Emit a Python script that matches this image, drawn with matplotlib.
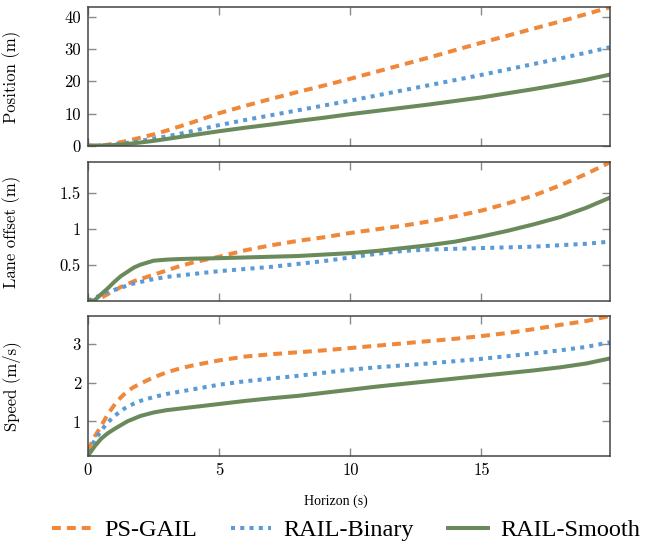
import matplotlib
matplotlib.use("Agg")
import matplotlib.pyplot as plt
from matplotlib.lines import Line2D

plt.rcParams['axes.formatter.use_mathtext'] = True

# ---------------- data ----------------
horizon = [0, 0.25, 0.5, 0.75, 1, 1.25, 1.5, 1.75, 2, 2.5, 3, 3.5, 4, 5, 6, 7, 8, 9, 10,
           11, 12, 13, 14, 15, 16, 17, 18, 19, 19.9]

series_names = ["PS-GAIL", "RAIL-Binary", "RAIL-Smooth"]

pos_ps = [0, 0.02, 0.1, 0.3, 0.7, 1.1, 1.5, 2.0, 2.5, 3.5, 4.7, 6.0, 7.3, 10.1, 12.4, 14.6, 16.7,
          18.7, 20.8, 23.0, 25.2, 27.4, 29.7, 32.0, 34.2, 36.4, 38.6, 40.9, 43.0]
pos_bin = [0, 0.01, 0.05, 0.15, 0.35, 0.6, 0.9, 1.2, 1.5, 2.2, 2.9, 3.7, 4.6, 6.4, 8.0, 9.5, 11.0,
           12.5, 14.0, 15.6, 17.2, 18.8, 20.4, 22.0, 23.7, 25.4, 27.1, 28.9, 30.6]
pos_smooth = [0, 0.0, 0.03, 0.1, 0.2, 0.35, 0.55, 0.75, 1.0, 1.5, 2.1, 2.7, 3.3, 4.5, 5.6, 6.6, 7.7,
              8.7, 9.8, 10.8, 11.8, 12.8, 13.9, 15.0, 16.3, 17.6, 19.0, 20.5, 22.1]

lane_ps = [0, 0.0, 0.04, 0.09, 0.14, 0.19, 0.23, 0.27, 0.3, 0.36, 0.42, 0.48, 0.53, 0.61, 0.7, 0.77,
           0.83, 0.88, 0.94, 0.99, 1.04, 1.1, 1.17, 1.25, 1.35, 1.46, 1.6, 1.76, 1.92]
lane_bin = [0, 0.04, 0.08, 0.12, 0.15, 0.18, 0.21, 0.24, 0.26, 0.3, 0.33, 0.35, 0.37, 0.41, 0.44,
            0.47, 0.51, 0.55, 0.6, 0.65, 0.69, 0.71, 0.72, 0.73, 0.74, 0.75, 0.77, 0.79, 0.82]
lane_smooth = [0, 0.005, 0.09, 0.17, 0.26, 0.34, 0.4, 0.46, 0.5, 0.555, 0.57, 0.578, 0.583, 0.59,
               0.6, 0.61, 0.62, 0.64, 0.66, 0.69, 0.73, 0.77, 0.82, 0.89, 0.97, 1.06, 1.16, 1.29, 1.43]

speed_ps = [0.25, 0.6, 0.88, 1.18, 1.42, 1.62, 1.78, 1.89, 1.98, 2.14, 2.27, 2.37, 2.45, 2.58,
            2.68, 2.74, 2.79, 2.84, 2.9, 2.96, 3.02, 3.08, 3.14, 3.21, 3.29, 3.39, 3.5, 3.6, 3.73]
speed_bin = [0.2, 0.5, 0.76, 0.97, 1.13, 1.27, 1.38, 1.46, 1.53, 1.63, 1.71, 1.77, 1.83, 1.95,
             2.04, 2.11, 2.18, 2.26, 2.34, 2.4, 2.45, 2.5, 2.56, 2.62, 2.69, 2.76, 2.84, 2.93, 3.05]
speed_smooth = [0.11, 0.35, 0.55, 0.69, 0.8, 0.9, 1.0, 1.07, 1.14, 1.23, 1.29, 1.33, 1.37, 1.45,
                1.53, 1.6, 1.66, 1.74, 1.82, 1.9, 1.97, 2.04, 2.11, 2.18, 2.25, 2.32, 2.4, 2.5, 2.63]

x_ticks = [0, 5, 10, 15]
pos_ticks = [0, 10, 20, 30, 40]
lane_ticks = [0.5, 1, 1.5]
speed_ticks = [1, 2, 3]

ylabels = ["Position (m)", "Lane offset (m)", "Speed (m/s)"]
xlabel = "Horizon (s)"

# ---------------- style ----------------
colors = ["#F0883A", "#5B9BD5", "#6A8A5B"]
lw = 2.9
styles = [dict(dashes=(2.2, 1.5), dash_capstyle='butt'),
          dict(dashes=(1.0, 1.3), dash_capstyle='butt'),
          dict(linestyle='-')]

fig = plt.figure(figsize=(6.62, 5.44), dpi=100)
W, H = 662, 544
left, right = 88 / W, 610 / W
panels = [(7.3, 145.7), (162.3, 300.7), (316, 455.7)]

data = [
    ([pos_ps, pos_bin, pos_smooth], pos_ticks, (0, 43.0), ["0", "10", "20", "30", "40"]),
    ([lane_ps, lane_bin, lane_smooth], lane_ticks, (0, 1.92), ["0.5", "1", "1.5"]),
    ([speed_ps, speed_bin, speed_smooth], speed_ticks, (0.11, 3.73), ["1", "2", "3"]),
]

tickfont = dict(family='cmr10', size=12)
axes = []
for i, ((top, bot), (ys, yt, ylim, ytl)) in enumerate(zip(panels, data)):
    ax = fig.add_axes([left, 1 - bot / H, right - left, (bot - top) / H])
    for y, c, st in zip(ys, colors, styles):
        ax.plot(horizon, y, color=c, lw=lw, **st)
    ax.set_xlim(0, 19.9)
    ax.set_ylim(*ylim)
    ax.set_xticks(x_ticks)
    ax.set_yticks(yt)
    ax.set_yticklabels(ytl, fontdict=tickfont)
    if i == 2:
        ax.set_xticklabels([str(t) for t in x_ticks], fontdict=tickfont)
    else:
        ax.set_xticklabels([])
    ax.tick_params(direction='in', top=True, right=True, length=6, width=1.0,
                   color='#8a8a8a', pad=5)
    for sp in ax.spines.values():
        sp.set_color('#444444')
        sp.set_linewidth(1.1)
    ax.set_ylabel(ylabels[i], fontfamily='cmr10', fontsize=12)
    ax.yaxis.set_label_coords(-0.128, 0.5)
    axes.append(ax)

fig.text(336 / W, 1 - 501 / H, xlabel, ha='center', va='center',
         family='Liberation Serif', fontsize=10)

handles = [Line2D([], [], color=c, lw=lw, **st) for c, st in zip(colors, styles)]
fig.legend(handles, series_names, loc='center', bbox_to_anchor=(346 / W, 1 - 530 / H),
           ncol=3, frameon=False, handlelength=1.65, handletextpad=0.5,
           columnspacing=1.4, prop=dict(family='Liberation Serif', size=17.5))

fig.savefig("out.png", dpi=100)
